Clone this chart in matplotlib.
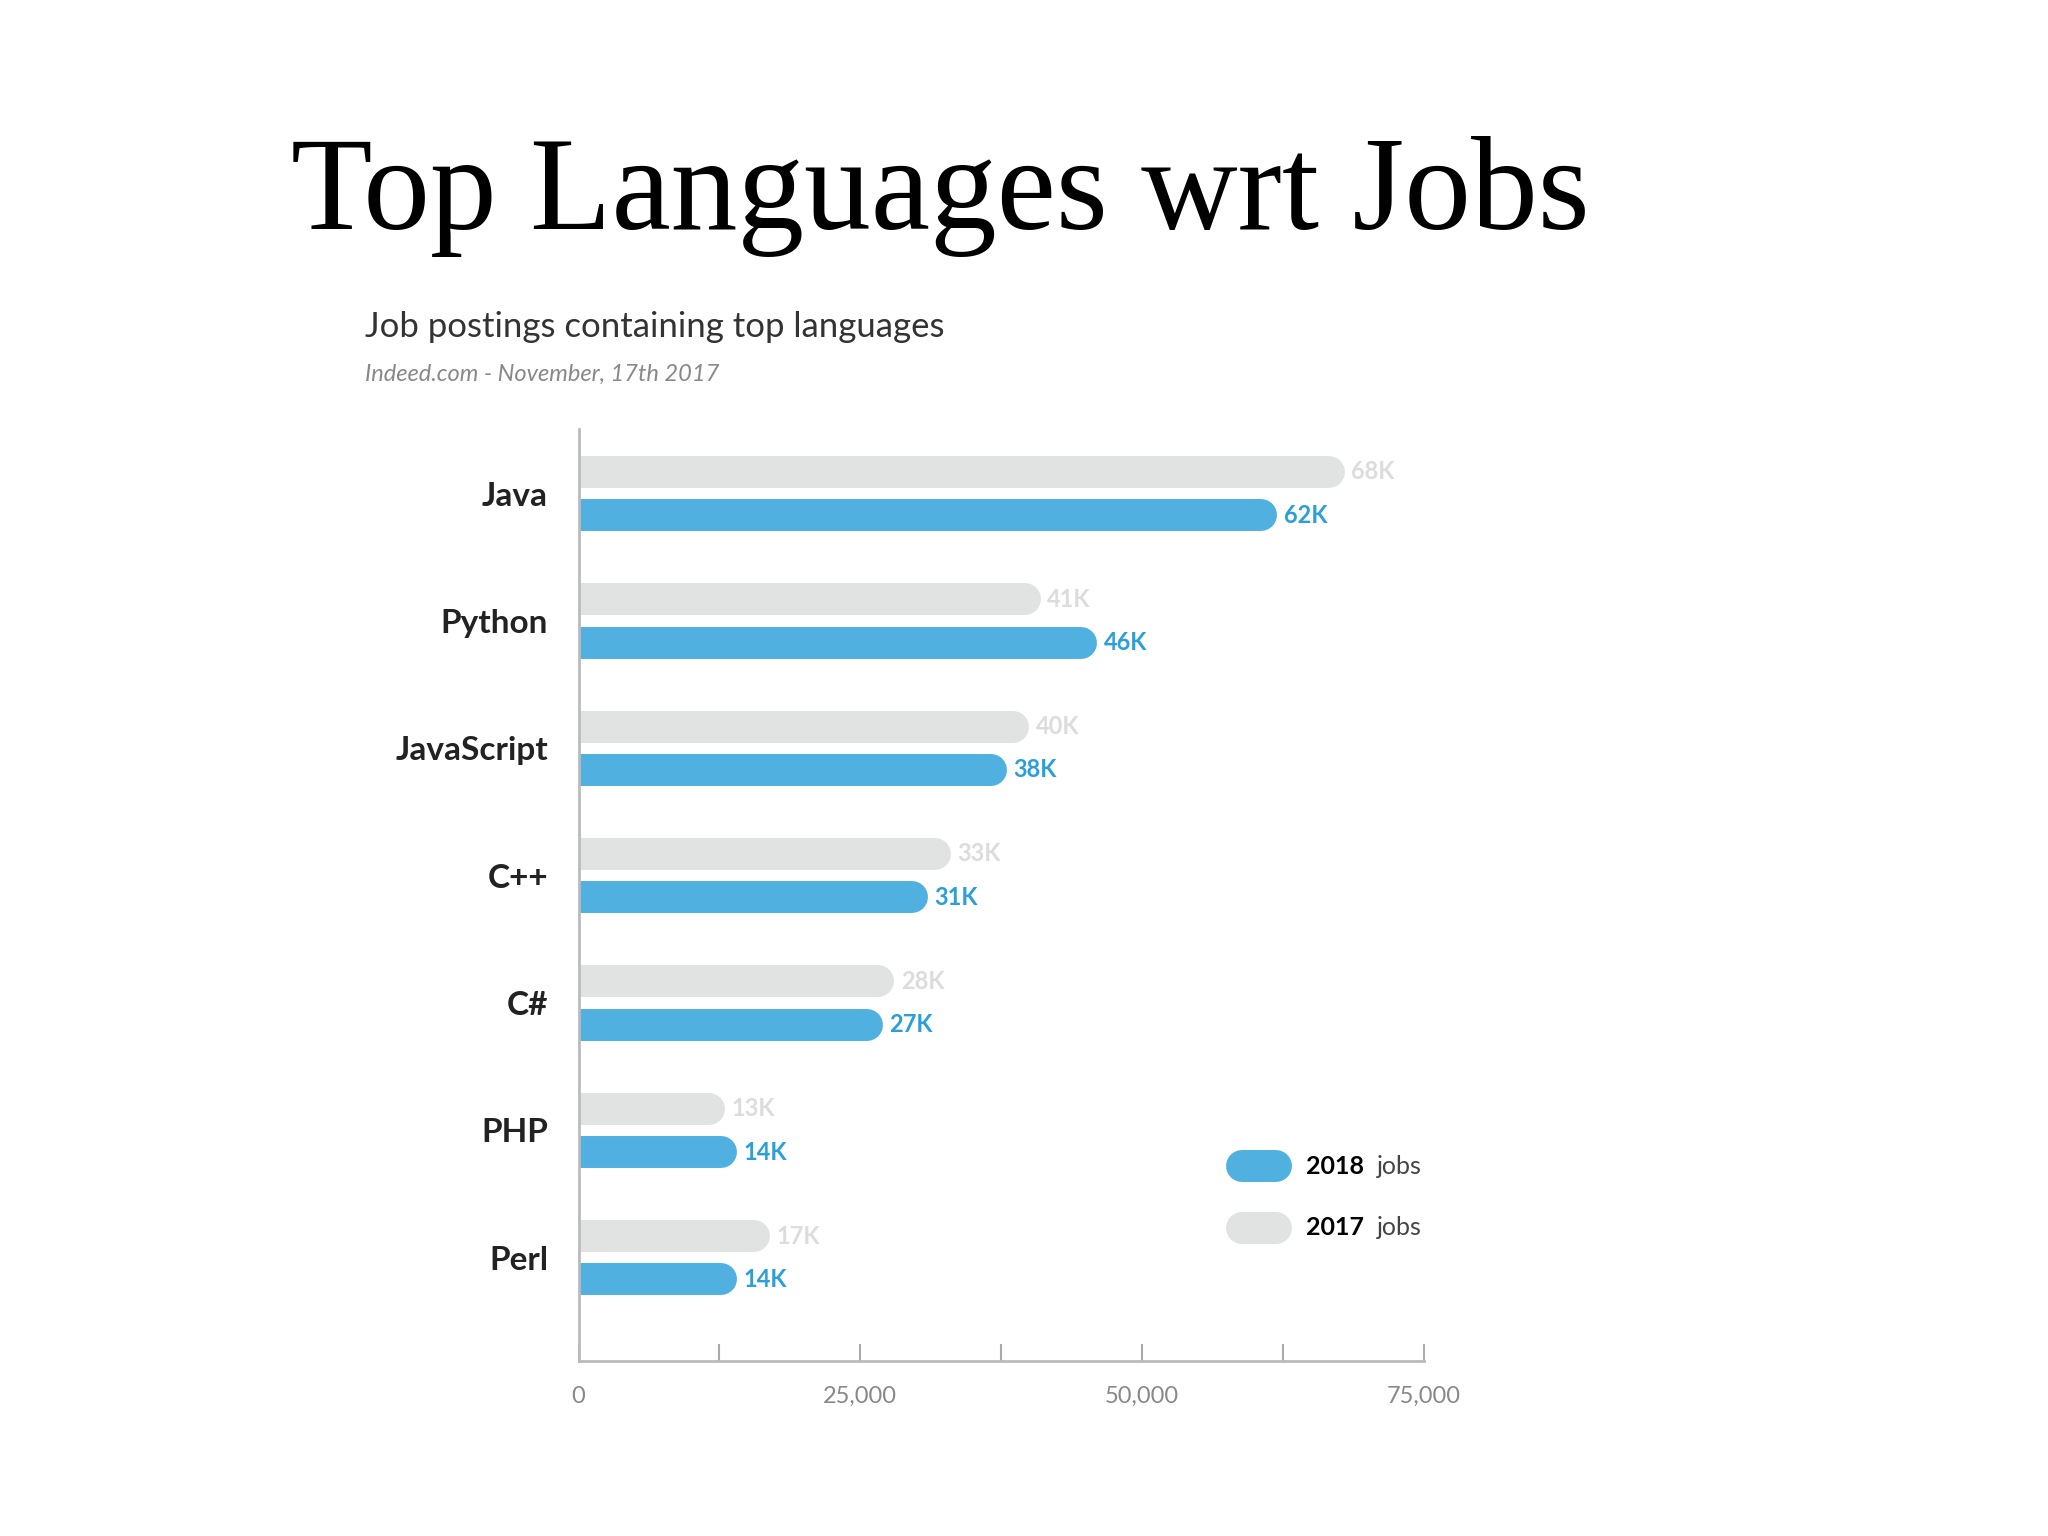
import matplotlib.pyplot as plt

languages = ["Java", "Python", "JavaScript", "C++", "C#", "PHP", "Perl"]
jobs_2017 = [68, 41, 40, 33, 28, 13, 17]
jobs_2018 = [62, 46, 38, 31, 27, 14, 14]

BLUE = "#50b0e0"
BLUE_TXT = "#2a9fd8"
GREY = "#e1e2e2"
GREY_TXT = "#dcdcdc"
CAP = 1400  # round cap radius in data units

plt.rcParams["font.family"] = ["Lato", "DejaVu Sans"]
fig = plt.figure(figsize=(20.48, 15.36), dpi=100)
fig.text(0.142, 0.872, "Top Languages wrt Jobs", family="Liberation Serif",
         fontsize=96, va="center", ha="left")
fig.text(0.178, 0.787, "Job postings containing top languages", fontsize=25,
         color="#333333", va="center")
fig.text(0.178, 0.756, "Indeed.com - November, 17th 2017", fontsize=17,
         color="#888888", style="italic", va="center")

ax = fig.add_axes([0.2825, 0.114, 0.4126, 0.607])
off = 0.17
for i, (a, b) in enumerate(zip(jobs_2017, jobs_2018)):
    ax.plot([-5000, a * 1000 - CAP], [i - off] * 2, color=GREY, lw=23,
            solid_capstyle="round")
    ax.plot([-5000, b * 1000 - CAP], [i + off] * 2, color=BLUE, lw=23,
            solid_capstyle="round")
    ax.text(a * 1000 + 600, i - off, f"{a}K", color=GREY_TXT, fontsize=17,
            fontweight="bold", va="center")
    ax.text(b * 1000 + 600, i + off, f"{b}K", color=BLUE_TXT, fontsize=17,
            fontweight="bold", va="center")

ax.set_xlim(0, 75000)
ax.set_ylim(6.81, -0.51)
ax.set_yticks(range(len(languages)))
ax.set_yticklabels(languages, fontsize=24, fontweight="bold", color="#222222")
ax.tick_params(axis="y", length=0, pad=22)
ax.set_xticks([0, 25000, 50000, 75000])
ax.set_xticklabels(["0", "25,000", "50,000", "75,000"], fontsize=17,
                   color="#888888")
ax.set_xticks([12500, 37500, 62500], minor=True)
ax.tick_params(axis="x", which="both", direction="in", length=12,
               color="#aaaaaa", width=1.5, pad=18)
for s in ["top", "right"]:
    ax.spines[s].set_visible(False)
for s in ["left", "bottom"]:
    ax.spines[s].set_color("#bbbbbb")
    ax.spines[s].set_linewidth(2)

# legend
for y, col, yr in [(0.209, BLUE, "2018"), (0.143, GREY, "2017")]:
    ax.plot([0.785, 0.825], [y, y], color=col, lw=23, solid_capstyle="round",
            transform=ax.transAxes, clip_on=False)
    ax.text(0.861, y, yr, fontsize=18, fontweight="bold", va="center",
            transform=ax.transAxes)
    ax.text(0.945, y, "jobs", fontsize=18, color="#444444", va="center",
            transform=ax.transAxes)

fig.savefig("out.png", dpi=100)
